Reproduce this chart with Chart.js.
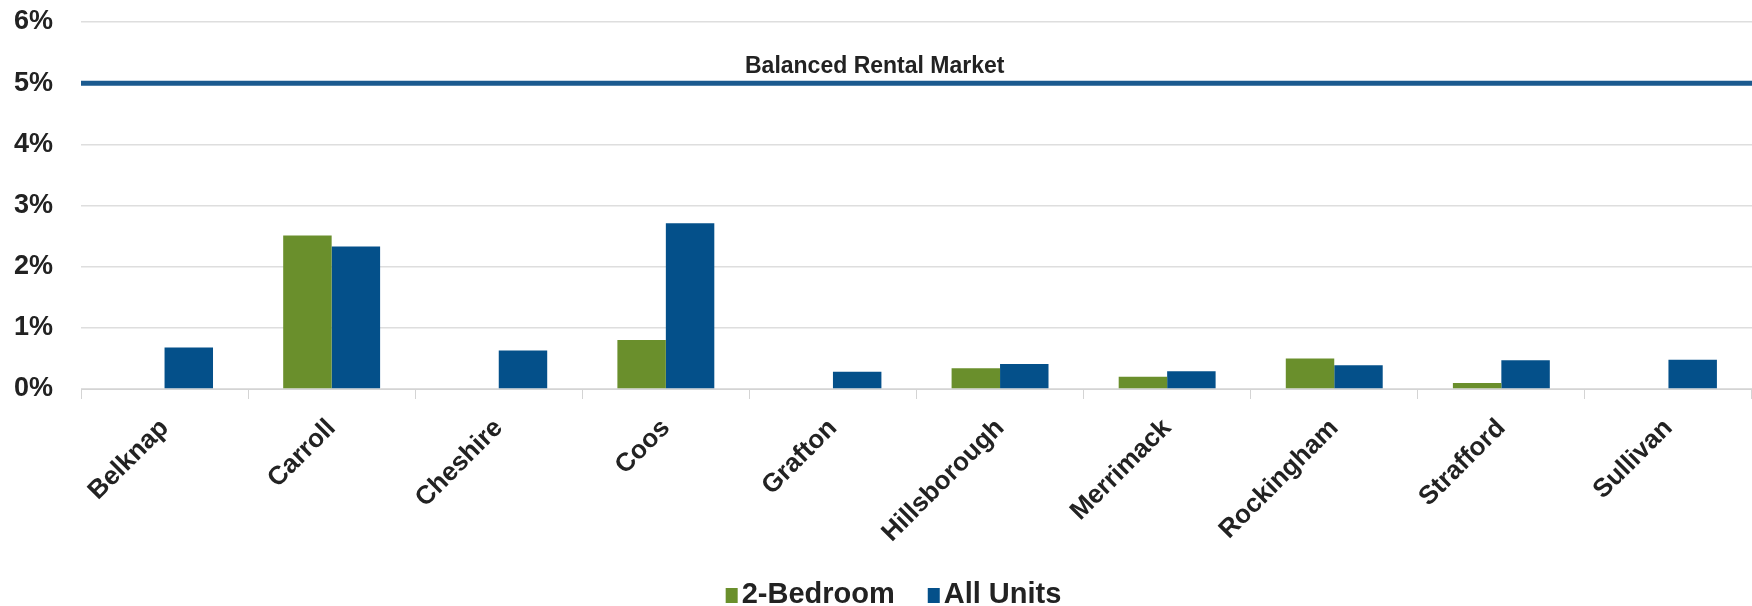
<!DOCTYPE html>
<html>
<head>
<meta charset="utf-8">
<script src="https://cdn.jsdelivr.net/npm/chart.js@4"></script>
<style>
    html, body { margin: 0; padding: 0; background: #ffffff; }
</style>
</head>
<body>
<canvas id="vacancyChart" width="1752" height="606"></canvas>
<script>
// ===============================
// DATA
// ===============================
const counties = ["Belknap", "Carroll", "Cheshire", "Coos", "Grafton",
    "Hillsborough", "Merrimack", "Rockingham", "Strafford", "Sullivan"];

// vacancy rate, percent
const twoBedroom = [null, 2.51, null, 0.80, null, 0.34, 0.20, 0.50, 0.10, null];
const allUnits = [0.68, 2.33, 0.63, 2.71, 0.28, 0.41, 0.29, 0.39, 0.47, 0.48];

const balancedRate = 5;
const balancedLabel = "Balanced Rental Market";

const yTickValues = [0, 1, 2, 3, 4, 5, 6];

const FONT = "'Liberation Sans', Arial, sans-serif";

// ===============================
// BALANCED MARKET LINE
// ===============================
const balancedLine = {
    id: "balancedLine",
    beforeDatasetsDraw(chart) {
        const { ctx, chartArea, scales } = chart;
        const y = scales.y.getPixelForValue(balancedRate);

        ctx.save();
        ctx.strokeStyle = "#1b5a8f";
        ctx.lineWidth = 5;
        ctx.beginPath();
        ctx.moveTo(chartArea.left, y);
        ctx.lineTo(chartArea.right, y);
        ctx.stroke();

        ctx.fillStyle = "#222222";
        ctx.font = "bold 23px " + FONT;
        ctx.textAlign = "center";
        ctx.textBaseline = "alphabetic";
        ctx.fillText(balancedLabel, chartArea.left + chartArea.width * 0.475, y - 10);
        ctx.restore();
    }
};

// ===============================
// LEGEND (tight box/text spacing)
// ===============================
const bottomLegend = {
    id: "bottomLegend",
    afterDraw(chart) {
        const ctx = chart.ctx;
        const sets = chart.data.datasets;
        const box = 12, boxH = 15, gap = 4, spacing = 33;

        ctx.save();
        ctx.font = "bold 29px " + FONT;
        ctx.textBaseline = "alphabetic";
        ctx.textAlign = "left";

        const widths = sets.map(ds => ctx.measureText(ds.label).width);
        let total = widths.reduce((a, w) => a + box + gap + w, 0) + spacing * (sets.length - 1);
        let x = chart.width * 0.51 - total / 2;
        const baseline = chart.height - 3;

        sets.forEach((ds, i) => {
            ctx.fillStyle = ds.backgroundColor;
            ctx.fillRect(x, baseline - boxH, box, boxH);
            x += box + gap;
            ctx.fillStyle = "#222222";
            ctx.fillText(ds.label, x, baseline);
            x += widths[i] + spacing;
        });
        ctx.restore();
    }
};

// ===============================
// CHART
// ===============================
const ctx = document.getElementById("vacancyChart").getContext("2d");

new Chart(ctx, {
    type: "bar",
    data: {
        labels: counties,
        datasets: [
            {
                label: "2-Bedroom",
                data: twoBedroom,
                backgroundColor: "#6a8f2c"
            },
            {
                label: "All Units",
                data: allUnits,
                backgroundColor: "#04508a"
            }
        ]
    },
    options: {
        responsive: false,
        animation: false,
        devicePixelRatio: 1,
        categoryPercentage: 0.58,
        barPercentage: 1.0,
        layout: {
            padding: { top: 22, left: 0, right: 0, bottom: 40 }
        },
        scales: {
            x: {
                grid: {
                    drawOnChartArea: false,
                    color: "#d4d4d4",
                    tickLength: 10
                },
                border: { color: "#d4d4d4" },
                ticks: {
                    color: "#222222",
                    font: { family: FONT, size: 26, weight: "bold" },
                    minRotation: 45,
                    maxRotation: 45,
                    padding: 14
                },
                afterFit(scale) {
                    scale.height = 177;
                    scale.paddingLeft = 0;
                    scale.paddingRight = 0;
                }
            },
            y: {
                min: 0,
                max: 6,
                afterBuildTicks(scale) {
                    scale.ticks = yTickValues.map(v => ({ value: v }));
                },
                afterFit(scale) {
                    scale.width = 81;
                    scale.paddingTop = 0;
                    scale.paddingBottom = 0;
                },
                grid: {
                    color: "#dedede",
                    lineWidth: 1.5,
                    drawTicks: false
                },
                border: { display: false },
                ticks: {
                    color: "#222222",
                    font: { family: FONT, size: 27, weight: "bold" },
                    padding: 28,
                    callback: v => v + "%"
                }
            }
        },
        plugins: {
            legend: { display: false },
            tooltip: { enabled: false }
        }
    },
    plugins: [balancedLine, bottomLegend]
});
</script>
</body>
</html>
